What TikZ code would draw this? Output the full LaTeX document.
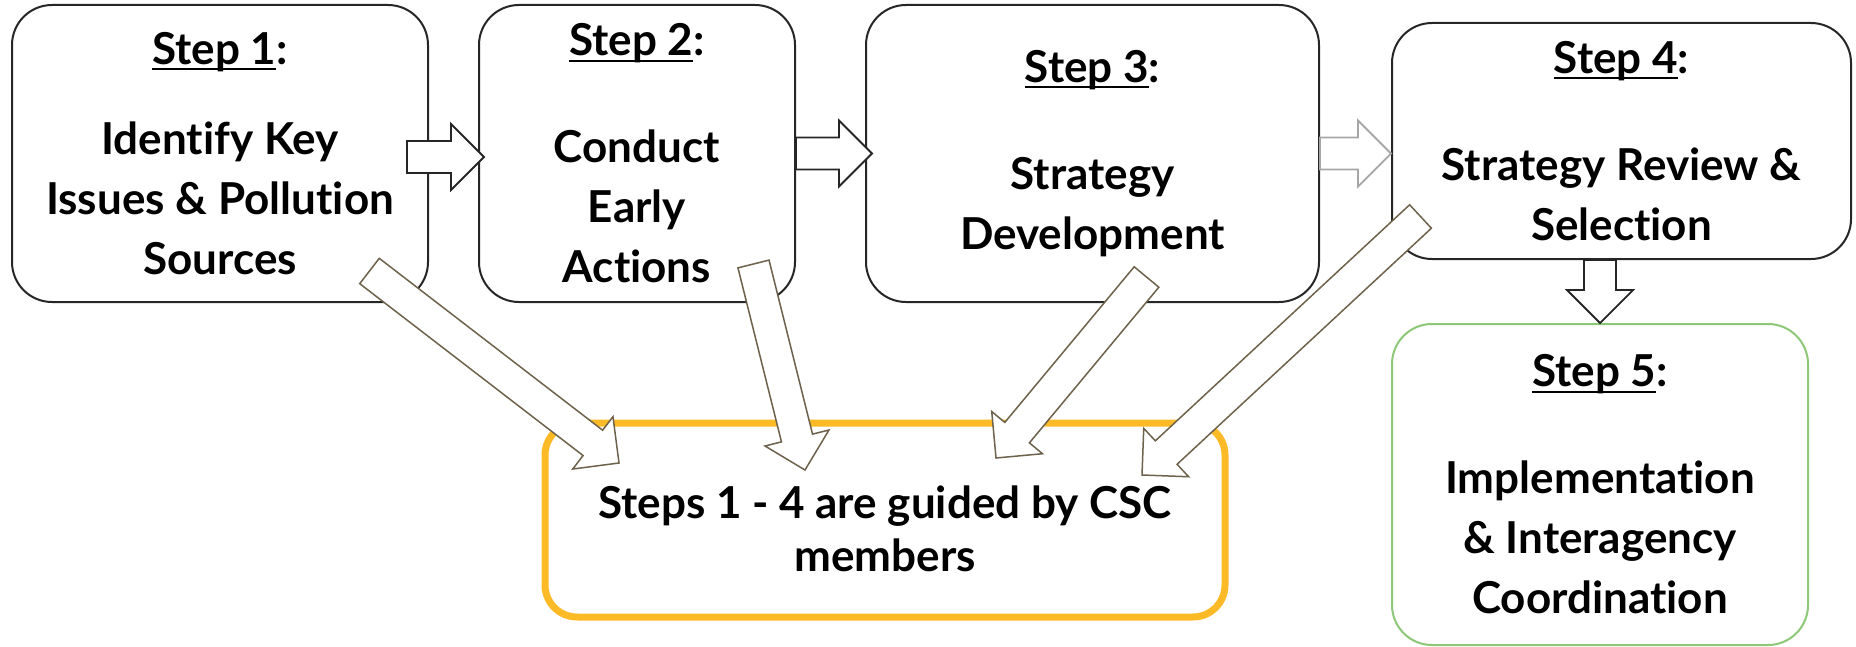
\documentclass[tikz,border=0pt]{standalone}
\usepackage{fontspec}
\setmainfont{Lato}[Ligatures=NoCommon]
\usetikzlibrary{calc}

\begin{document}
\begin{tikzpicture}[x=0.5pt,y=-0.5pt,line join=miter,
  stepbox/.style={draw=custcol_26_26_26, line width=1pt, fill=white, rounded corners=20pt, align=center, inner sep=0pt, font=\fontsize{22pt}{30pt}\bfseries\selectfont},
  lastbox/.style={stepbox, draw=custcol_8c_c8_78},
  cscbox/.style={stepbox, draw=custcol_fc_ba_26, line width=3.5pt, rounded corners=16pt, font=\fontsize{22pt}{26.5pt}\bfseries\selectfont},
  fatarrow/.style={draw=custcol_26_26_26, line width=0.9pt, fill=white},
  greyarrow/.style={fatarrow, draw=custcol_a6_a6_a6},
  csclink/.style={fatarrow, draw=custcol_6e_62_4c, line width=0.75pt}]
\useasboundingbox (0,0) rectangle (1856,647);
\definecolor{custcol_26_26_26}{RGB}{38, 38, 38}
\definecolor{custcol_8c_c8_78}{RGB}{140, 200, 120}
\definecolor{custcol_fc_ba_26}{RGB}{252, 186, 38}
\definecolor{custcol_a6_a6_a6}{RGB}{166, 166, 166}
\definecolor{custcol_6e_62_4c}{RGB}{110, 98, 76}
\def\stepul#1{\setbox0\hbox{#1}\rlap{\rule[-2.9pt]{\wd0}{1.1pt}}\box0}
\def\blockarrow#1#2#3{% style, tail, tip
  \path ($(#3)!16.5pt!(#2)$) coordinate (neck);
  \draw[#1] ($(#2)!8pt!90:(#3)$) -- ($(neck)!8pt!90:(#3)$) -- ($(neck)!16.5pt!90:(#3)$) -- (#3)
    -- ($(neck)!16.5pt!-90:(#3)$) -- ($(neck)!8pt!-90:(#3)$) -- ($(#2)!8pt!-90:(#3)$) -- cycle;}
\node[stepbox, minimum width=208pt, minimum height=148.5pt] (step1) at (220,153.5) {\stepul{Step 1}:\\[15pt]Identify Key\\Issues \& Pollution\\Sources};
\node[stepbox, minimum width=158pt, minimum height=148.5pt] (step2) at (637,153.5) {\stepul{Step 2}:\\[23.5pt]Conduct\\Early\\Actions};
\node[stepbox, minimum width=226.5pt, minimum height=148.5pt] (step3) at (1092.5,153.5) {\stepul{Step 3}:\\[23.5pt]Strategy\\Development};
\node[stepbox, minimum width=229.5pt, minimum height=118pt] (step4) at (1621.5,141) {\stepul{Step 4}:\\[23.5pt]Strategy Review \&\\Selection};
\node[lastbox, minimum width=208pt, minimum height=160.5pt] (step5) at (1600,484.5) {\stepul{Step 5}:\\[23.5pt]Implementation\\\& Interagency\\Coordination};
\node[cscbox, minimum width=340pt, minimum height=97pt] (csc) at (885,520) {\rule{0pt}{25pt}Steps 1 - 4 are guided by CSC\\members};
\coordinate (out1) at (407,157);
\coordinate (in2) at (484,157);
\coordinate (out2) at (step2.east);
\coordinate (in3) at (872,153.5);
\coordinate (out3) at (step3.east);
\coordinate (in4) at (step4.west |- out3);
\coordinate (out4) at (step4.south -| step5.north);
\coordinate (in5) at (step5.north);
\coordinate (from1) at (369.5,271);
\coordinate (to1) at (619,463);
\coordinate (from2) at (753.5,264);
\coordinate (to2) at (805,470);
\coordinate (from3) at (1146.5,277);
\coordinate (to3) at (996,458);
\coordinate (from4) at (1420.5,216.5);
\coordinate (to4) at (1142,475);
\blockarrow{fatarrow}{out1}{in2}
\blockarrow{fatarrow}{out2}{in3}
\blockarrow{greyarrow}{out3}{in4}
\blockarrow{fatarrow}{out4}{in5}
\blockarrow{csclink}{from1}{to1}
\blockarrow{csclink}{from2}{to2}
\blockarrow{csclink}{from3}{to3}
\blockarrow{csclink}{from4}{to4}
\end{tikzpicture}
\end{document}
